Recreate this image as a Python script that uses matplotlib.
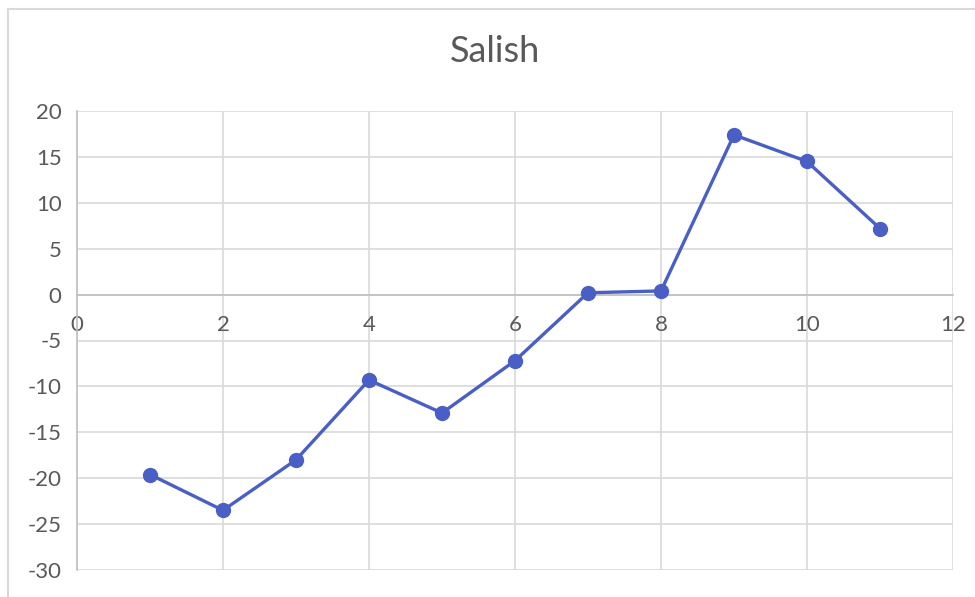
import matplotlib.pyplot as plt
from matplotlib.patches import Rectangle

# Datos
x = [1, 2, 3, 4, 5, 6, 7, 8, 9, 10, 11]
y = [-19.6, -23.5, -18.0, -9.3, -12.9, -7.2, 0.2, 0.4, 17.4, 14.5, 7.2]
xticks = [0, 2, 4, 6, 8, 10, 12]
yticks = [-30, -25, -20, -15, -10, -5, 0, 5, 10, 15, 20]

plt.rcParams['font.family'] = ['Lato', 'DejaVu Sans']
plt.rcParams['axes.unicode_minus'] = False
gris = '#595959'
rejilla = '#d9d9d9'

fig = plt.figure(figsize=(9.75, 5.97), dpi=100)
# marco exterior del grafico (recortado a la derecha y abajo)
fig.patches.append(Rectangle((8 / 975, -0.05), 1.1, 1 - 9 / 597 + 0.05,
                             transform=fig.transFigure, fill=False,
                             edgecolor=rejilla, linewidth=1.5))

ax = fig.add_axes([77 / 975, 1 - 570 / 597, (953 - 77) / 975, (570 - 111) / 597])
ax.plot(x, y, color='#4a5fc6', linewidth=2.4, marker='o', markersize=10, zorder=3)

ax.set_xlim(0, 12)
ax.set_ylim(-30, 20)
ax.set_xticks(xticks)
ax.set_yticks(yticks)
ax.grid(True, color=rejilla, linewidth=1.2)
ax.set_axisbelow(True)

for s in ['top', 'right']:
    ax.spines[s].set_visible(False)
ax.spines['bottom'].set_position(('data', 0))
ax.spines['bottom'].set_color('#bfbfbf')
ax.spines['left'].set_color('#bfbfbf')
ax.spines['left'].set_linewidth(1.2)
ax.spines['bottom'].set_linewidth(1.2)
ax.tick_params(length=0, labelsize=16, labelcolor=gris)
ax.tick_params(axis='x', pad=15)
ax.tick_params(axis='y', pad=11)

fig.text(495 / 975, 1 - 52 / 597, 'Salish', ha='center', va='center',
         fontsize=26, color=gris)

plt.savefig('out.png', dpi=100)
